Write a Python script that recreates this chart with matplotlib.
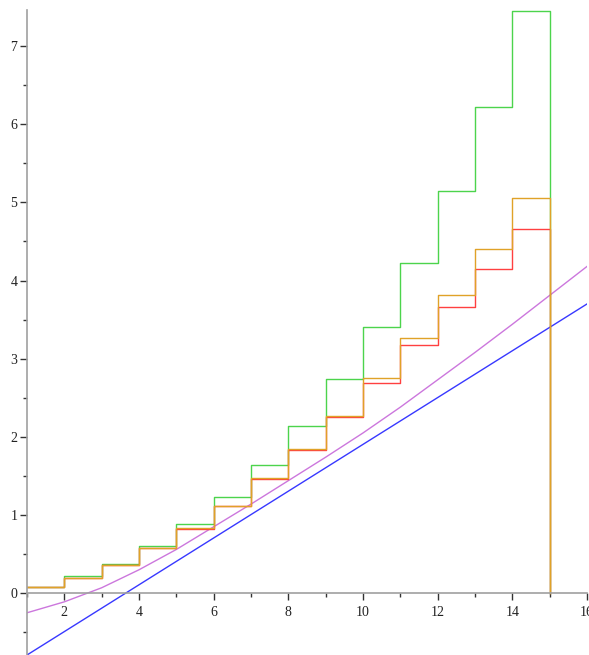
import numpy as np
import matplotlib
matplotlib.use("Agg")
import matplotlib.pyplot as plt
from matplotlib.ticker import MultipleLocator

# step functions on [k, k+1), k = 1..14, dropping to 0 at x = 15
k = np.arange(1, 15)
green = [0.08, 0.22, 0.38, 0.60, 0.88, 1.23, 1.64, 2.14, 2.74, 3.41, 4.22, 5.15, 6.22, 7.45]
orange = [0.08, 0.20, 0.36, 0.58, 0.83, 1.12, 1.47, 1.84, 2.27, 2.75, 3.26, 3.81, 4.40, 5.06]
red = [0.08, 0.20, 0.36, 0.58, 0.82, 1.11, 1.46, 1.83, 2.26, 2.69, 3.17, 3.66, 4.15, 4.66]

# smooth curves
xc = np.arange(1, 17)
purple = [-0.25, -0.11, 0.07, 0.30, 0.56, 0.85, 1.14, 1.44, 1.74, 2.05, 2.38, 2.73, 3.08, 3.44, 3.81, 4.18]
blue_x = [1, 16]
blue_y = [-0.79, 3.70]

fig = plt.figure(figsize=(5.89, 6.55), dpi=100)
ax = fig.add_axes([27/589, 0.0, 560/589, 645/655])

ax.plot(xc, purple, color='#cc77dd', lw=1.0)
ax.plot(blue_x, blue_y, color='#3838ff', lw=1.0)

def stepline(vals):
    xs = np.append(k, [15, 15])
    ys = np.append(vals, [vals[-1], 0])
    return xs, ys

for vals, col in [(green, '#4cd44c'), (red, '#ff4040'), (orange, '#e0a228')]:
    xs, ys = stepline(vals)
    ax.step(xs, ys, where='post', color=col, lw=1.0)

ax.set_xlim(1, 16)
ax.set_ylim(-0.79, 7.46)

for s in ['top', 'right']:
    ax.spines[s].set_visible(False)
ax.spines['bottom'].set_position(('data', 0))
ax.spines['left'].set_position(('data', 1))
for s in ['bottom', 'left']:
    ax.spines[s].set_color('#a0a0a0')
    ax.spines[s].set_linewidth(1.2)

ax.xaxis.set_major_locator(MultipleLocator(2))
ax.xaxis.set_minor_locator(MultipleLocator(1))
ax.yaxis.set_major_locator(MultipleLocator(1))
ax.yaxis.set_minor_locator(MultipleLocator(0.5))
ax.set_xticks(range(2, 17, 2))
ax.set_yticks(range(0, 8))

ax.tick_params(axis='both', which='major', direction='out', length=5, width=1,
               color='#333333', labelsize=10, labelcolor='#222222')
ax.tick_params(axis='both', which='minor', direction='out', length=3, width=1,
               color='#333333')
ax.tick_params(axis='x', pad=4)
ax.tick_params(axis='y', pad=2)
for lab in ax.get_xticklabels() + ax.get_yticklabels():
    lab.set_family('Liberation Serif')

ax.patch.set_visible(False)
fig.savefig('out.png', dpi=100)
